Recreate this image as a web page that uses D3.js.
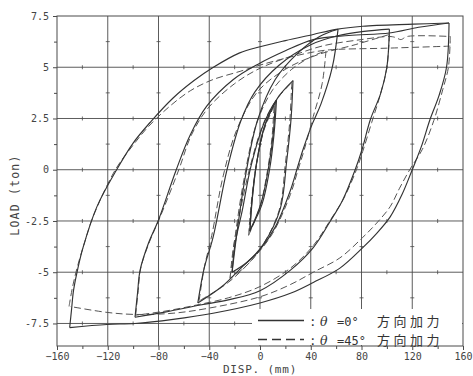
<!DOCTYPE html>
<html><head><meta charset="utf-8">
<script src="https://cdn.jsdelivr.net/npm/d3@7"></script>
<style>
html,body{margin:0;padding:0;background:#fff;}
svg{display:block;}
</style></head><body>
<svg id="chart" width="473" height="376"></svg>
<script>
// ---- axis setup ----
const xTicks = [-160, -120, -80, -40, 0, 40, 80, 120, 160];
const xMinor = [-140, -100, -60, -20, 20, 60, 100, 140];
const yTicks = [-7.5, -5, -2.5, 0, 2.5, 5, 7.5];
const yTickLabels = ["-7.5", "-5", "-2.5", "0", "2.5", "5", "7.5"];
const yMinor = [-8.75, -6.25, -3.75, -1.25, 1.25, 3.75, 6.25];

// ---- theta = 0 deg (solid) : branches of the load-displacement loops ----
const s10Up   = [[-8,-3.0],[-6.5,-1.6],[-3,0.2],[3,2.0],[12,3.3]];
const s10Down = [[12,3.3],[10.5,1.8],[7,0.2],[1,-1.6],[-8,-3.0]];
const s10Up2  = [[-8,-3.0],[-6,-1.4],[-2.5,0.4],[4,2.2],[13,3.4]];
const s10Down2= [[13,3.4],[11,1.7],[7.5,0],[1.5,-1.7],[-7.5,-2.9]];
const s25Up   = [[-22,-5.0],[-19.6,-3.6],[-14,-2.0],[-7,0.2],[4,2.4],[15,3.6],[26,4.35]];
const s25Down = [[26,4.35],[24.5,2.5],[21,0.4],[16,-1.9],[3,-3.6],[-10,-4.5],[-22,-5.0]];
const s60Up   = [[-22,-5.0],[-18,-3.0],[-12,-0.5],[-2,2.4],[12,4.4],[30,5.7],[47,6.5],[61.5,6.85]];
const s60Down = [[61.5,6.85],[57,5.0],[48,3.2],[41,2.2],[34,1.0],[29,0],[24,-1.0],[12,-2.8],[0,-3.9],[-15,-4.8],[-30,-5.7],[-49,-6.5]];
const s100Up  = [[-49,-6.5],[-44,-4.8],[-37,-3.3],[-26,0],[-15,2.4],[-4,3.8],[15,5.1],[40,6.1],[62,6.55],[82,6.75],[102,6.86]];
const s100Down= [[102,6.86],[100,5.0],[95,3.7],[87,2.45],[80.5,1.0],[75,0],[65,-1.5],[55,-2.55],[42,-3.8],[24,-4.9],[0,-5.9],[-25,-6.35],[-47,-6.6],[-75,-6.95],[-98.5,-7.2]];
const s100Up2 = [[-98.5,-7.2],[-96.5,-6.0],[-94.5,-4.9],[-88,-3.6],[-80,-2.45],[-66,0],[-55,1.7],[-42,3.1],[-21,4.4],[-1.5,5.15],[20,5.8],[42,6.35],[70,6.55],[102,6.67],[125,6.95],[149,7.16]];
const s150Down= [[149,7.16],[147,5.0],[141,3.6],[134,2.45],[127,1.1],[120,0],[112,-1.2],[102.6,-2.3],[92,-3.1],[81,-3.8],[63,-4.8],[42,-5.5],[24,-6.03],[0,-6.5],[-37,-7.0],[-68.5,-7.3],[-98.5,-7.5],[-120.6,-7.55],[-150,-7.7]];
const s150Up  = [[-150,-7.7],[-148.5,-6.8],[-147,-5.9],[-143.5,-4.8],[-139.5,-3.8],[-128.5,-1.8],[-113,0],[-100,1.3],[-86,2.35],[-68.5,3.5],[-52,4.35],[-38,4.95],[-16,5.7],[0,6.0],[20,6.3],[42,6.6],[60,6.85],[81,7.0],[121,7.1],[149,7.16]];

// ---- theta = 45 deg (dashed) ----
const d10Up   = [[-9,-3.2],[-7,-1.7],[-3.5,0],[3,1.9],[11,3.1]];
const d10Down = [[11,3.1],[9.5,1.6],[6,0],[0,-1.8],[-9,-3.2]];
const d25Up   = [[-23.6,-5.3],[-21,-3.8],[-15.5,-2.0],[-8,0.1],[3,2.3],[14,3.5],[25,4.25]];
const d25Down = [[25,4.25],[23.5,2.4],[20,0.3],[15,-2.0],[1,-3.8],[-11,-4.7],[-23.6,-5.3]];
const d50Up   = [[-23.6,-5.3],[-19,-3.0],[-13,-0.6],[-3,2.2],[10,3.9],[25,4.9],[40,5.5],[52,5.8]];
const d50Down = [[52,5.8],[49,4.2],[42,2.6],[35,1.0],[30,0],[24,-1.2],[10,-3.1],[-5,-4.3],[-25,-5.5],[-48,-6.4]];
const d100Up  = [[-48,-6.4],[-44,-4.8],[-38,-3.2],[-29,-0.3],[-18,2.0],[-2,3.8],[20,4.9],[45,5.6],[75,6.1],[102,6.6]];
const d100Down= [[102,6.6],[100,5.0],[95,3.7],[88,2.3],[81,0.9],[76,0],[66,-1.4],[55,-2.5],[42,-3.7],[24,-4.8],[0,-5.7],[-25,-6.25],[-50,-6.6],[-75,-6.9],[-98,-7.1]];
const d100Up2 = [[-98,-7.1],[-96,-5.9],[-94,-4.8],[-87,-3.5],[-79,-2.35],[-64,0],[-54,1.7],[-41,3.0],[-20,4.2],[0,4.95],[25,5.55],[50,6.05],[80,6.35],[102,6.5],[107,6.45],[111,6.35],[116,6.5],[150,6.5]];
const d150Down= [[150,6.5],[148.5,5.0],[144,3.9],[137,2.4],[128,1.0],[118,0],[110,-0.9],[102.6,-1.8],[92,-2.6],[81,-3.3],[63,-4.3],[42,-5.0],[24,-5.6],[0,-6.2],[-40,-6.75],[-68.5,-7.0],[-98.5,-7.06],[-120.6,-6.96],[-149.7,-6.67]];
const d150Up  = [[-150.5,-6.67],[-148,-5.8],[-144,-4.75],[-138,-3.5],[-131.6,-2.3],[-114,0],[-100,1.2],[-88,2.1],[-72,3.05],[-55,3.85],[-37.8,4.38],[-15.7,4.8],[2.5,5.15],[24,5.5],[42,5.74],[55,5.85],[100,5.93],[150,6.03]];

const solidBranches = [s10Up,s10Down,s10Up2,s10Down2,s25Up,s25Down,s60Up,s60Down,s100Up,s100Down,s100Up2,s150Down,s150Up];
const dashedBranches = [d10Up,d10Down,d25Up,d25Down,d50Up,d50Down,d100Up,d100Down,d100Up2,d150Down,d150Up];

const legendItems = [
  {label: "=0°", dashed: false},
  {label: "=45°", dashed: true}
];
const legendSuffix = "方向加力";

// ---- layout ----
const svg = d3.select("#chart");
const x = d3.scaleLinear().domain([-160, 160]).range([57, 463]);
const y = d3.scaleLinear().domain([-8.6, 7.5]).range([346, 16]);
const ink = "#333";
const gridInk = "#4a4a4a";
const mono = "'DejaVu Sans Mono', monospace";

svg.append("rect").attr("width", 473).attr("height", 376).attr("fill", "#fff");

// grid
const grid = svg.append("g").attr("stroke", gridInk).attr("stroke-width", 0.9);
grid.selectAll(".vg").data(xTicks.slice(1, -1)).join("line")
  .attr("x1", d => x(d)).attr("x2", d => x(d)).attr("y1", y(7.5)).attr("y2", y(-8.6));
grid.selectAll(".hg").data(yTicks.slice(0, -1)).join("line")
  .attr("y1", d => y(d)).attr("y2", d => y(d)).attr("x1", x(-160)).attr("x2", x(160));
// small marks along grid lines at the half-step positions
const marks = svg.append("g").attr("stroke", gridInk).attr("stroke-width", 0.8);
xMinor.forEach(mx => yTicks.slice(0, -1).forEach(gy => {
  marks.append("line").attr("x1", x(mx)).attr("x2", x(mx)).attr("y1", y(gy) - 2).attr("y2", y(gy) + 2);
}));
yMinor.filter(v => v > -8.6).forEach(my => xTicks.slice(1, -1).forEach(gx => {
  marks.append("line").attr("y1", y(my)).attr("y2", y(my)).attr("x1", x(gx) - 2).attr("x2", x(gx) + 2);
}));

// curves
const line = d3.line().x(d => x(d[0])).y(d => y(d[1])).curve(d3.curveCatmullRom.alpha(0.5));
const curves = svg.append("g").attr("fill", "none").attr("stroke-linejoin", "round");
curves.selectAll(".dash").data(dashedBranches).join("path")
  .attr("d", line).attr("stroke", "#555").attr("stroke-width", 1).attr("stroke-dasharray", "7,3.5");
curves.selectAll(".solid").data(solidBranches).join("path")
  .attr("d", line).attr("stroke", ink).attr("stroke-width", 1.15);

// legend panel
const lg = svg.append("g");
lg.append("rect").attr("x", 252).attr("y", 309).attr("width", 210).attr("height", 36).attr("fill", "#fff");
legendItems.forEach((it, i) => {
  const ly = 320.5 + i * 19;
  lg.append("line").attr("x1", 258).attr("x2", 304).attr("y1", ly).attr("y2", ly)
    .attr("stroke", ink).attr("stroke-width", 1.3)
    .attr("stroke-dasharray", it.dashed ? "9,5" : null);
  const ty = ly + 5;
  lg.append("text").attr("x", 309).attr("y", ty).text(":")
    .attr("font-family", mono).attr("font-size", 12.5).attr("fill", "#333");
  lg.append("text").attr("x", 320).attr("y", ty).text("θ")
    .attr("font-family", "'DejaVu Serif', serif").attr("font-style", "italic").attr("font-size", 12.5).attr("fill", "#333");
  lg.append("text").attr("x", 337).attr("y", ty).text(it.label)
    .attr("font-family", mono).attr("font-size", 12).attr("fill", "#333");
  lg.append("text").attr("x", 377).attr("y", ty).text(legendSuffix)
    .attr("font-family", "'Noto Sans CJK JP', sans-serif").attr("font-size", 13).attr("letter-spacing", 3.5).attr("fill", "#333");
});

// frame
svg.append("rect").attr("x", x(-160)).attr("y", y(7.5)).attr("width", x(160) - x(-160)).attr("height", y(-8.6) - y(7.5))
  .attr("fill", "none").attr("stroke", gridInk).attr("stroke-width", 1);

// axes
const xAxis = svg.append("g").attr("transform", `translate(0,${y(-8.6)})`)
  .call(d3.axisBottom(x).tickValues(xTicks).tickSize(4).tickPadding(3).tickFormat(d3.format("d")));
const xAxisMinor = svg.append("g").attr("transform", `translate(0,${y(-8.6)})`)
  .call(d3.axisBottom(x).tickValues(xMinor).tickSize(3).tickFormat(""));
const yAxis = svg.append("g").attr("transform", `translate(${x(-160)},0)`)
  .call(d3.axisLeft(y).tickValues(yTicks).tickSize(4).tickPadding(4).tickFormat((d, i) => yTickLabels[i]));
const yAxisMinor = svg.append("g").attr("transform", `translate(${x(-160)},0)`)
  .call(d3.axisLeft(y).tickValues(yMinor.filter(v => v > -8.6)).tickSize(3).tickFormat(""));
[xAxis, xAxisMinor, yAxis, yAxisMinor].forEach(g => {
  g.select(".domain").remove();
  g.selectAll(".tick line").attr("stroke", gridInk);
  g.selectAll("text").attr("font-family", mono).attr("font-size", 10).attr("fill", "#444");
});

// axis titles
svg.append("text").attr("x", 260).attr("y", 372.5).attr("text-anchor", "middle")
  .attr("font-family", mono).attr("font-size", 11).attr("letter-spacing", 0.8).attr("fill", "#444").text("DISP. (mm)");
svg.append("text").attr("transform", "translate(19,195) rotate(-90)").attr("text-anchor", "middle")
  .attr("font-family", mono).attr("font-size", 11.5).attr("letter-spacing", 1.2).attr("fill", "#444").text("LOAD (ton)");
</script></body></html>
